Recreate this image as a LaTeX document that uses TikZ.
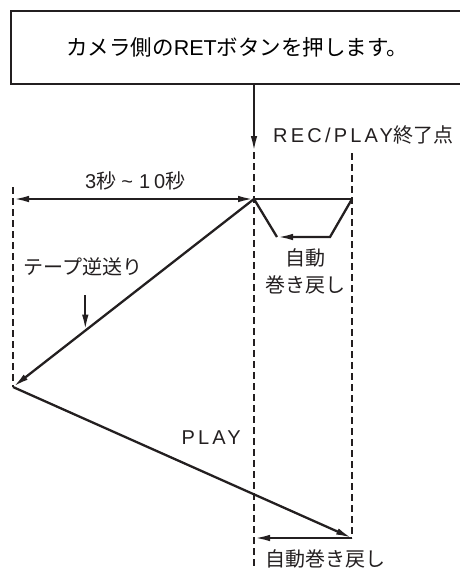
\documentclass[tikz,border=0pt]{standalone}
\usepackage{fontspec}
\setmainfont{Liberation Sans}
\newfontfamily\jp{Noto Sans CJK JP}
\usetikzlibrary{
  arrows.meta,
  calc,
  positioning
}
\definecolor{ink}{HTML}{231F20}
\newcommand{\jpt}[1]{{\jp #1}}
\newcommand{\spaced}[1]{{\addfontfeature{LetterSpace=16}#1}}
\tikzset{
  flow/.style={
    -{Latex[length=16pt,width=6.5pt]},
    line width=2.3pt,
    draw=ink
  },
  twoway/.style={
    {Latex[length=16pt,width=6.5pt]}-{Latex[length=16pt,width=6.5pt]},
    line width=2.3pt,
    draw=ink
  },
  track/.style={
    line width=2.3pt,
    draw=ink
  },
  guide/.style={
    dash pattern=on 7pt off 4pt,
    line width=2.3pt,
    draw=ink
  },
  note/.style={
    text=ink,
    inner sep=0pt,
    font=\fontsize{20}{27}\selectfont,
    align=center
  },
  panel/.style={
    draw=ink,
    line width=2.4pt,
    minimum width=452pt,
    minimum height=73pt,
    inner sep=0pt,
    font=\fontsize{21.5}{25}\selectfont
  }
}

\begin{document}
\begin{tikzpicture}[x=1pt, y=-1pt]
  \useasboundingbox (0,0) rectangle (460,570);

  \node[panel, anchor=north west] (retbox) at (10,10) {
    \jpt{カメラ側の}RET\jpt{ボタンを押します。}
  };

  % time marks
  \coordinate (endtop) at (254,152);
  \coordinate (endbot) at (254,572);
  \coordinate (rewtop) at (352,153);
  \coordinate (rewbot) at (352,538);
  \coordinate (starttop) at (13,187);
  \coordinate (startbot) at (13,387);
  \coordinate (endpt) at (254,199);
  \coordinate (rewpt) at (352,199);
  \coordinate (startpt) at (13,199);
  \coordinate (dipr) at (330,237);
  \coordinate (dipl) at (277,237);
  \coordinate (hit) at ($(endpt)!0.70!(startbot)$);
  \coordinate (playend) at (352,538);
  \coordinate (backend) at (254,538);

  \node[note, anchor=west] (recend) at (273,135) {
    \spaced{REC/PLAY}\jpt{終了点}
  };
  \node[note] (span) at (138,181) {
    3\jpt{秒}\hspace{5pt}\textasciitilde\hspace{6pt}1\hspace{4pt}0\jpt{秒}
  };
  \node[note] (autorew) at (305,271) {\jpt{自動}\\\jpt{巻き戻し}};
  \node[note] (taperev) at (83,267) {\jpt{テープ逆送り}};
  \node[note, anchor=east] (play) at (241,438) {\spaced{PLAY}};
  \node[note, anchor=west] (autorew2) at (265,559) {\jpt{自動巻き戻し}};

  \draw[flow] (retbox.south -| endtop) -- (endtop);
  \draw[guide] (endtop) -- (endbot);
  \draw[guide] (rewtop) -- (rewbot);
  \draw[guide] (starttop) -- (startbot);

  \draw[twoway] (startpt) -- (endpt);
  \draw[track] (endpt) -- (rewpt);
  \draw[flow] (rewpt) -- (dipr) -- (dipl);
  \draw[track] (dipl) -- (endpt);

  \draw[flow] (endpt) -- (startbot);
  \draw[flow] ([yshift=-19pt]taperev.south -| hit) -- (hit);
  \draw[flow] (startbot) -- (playend);
  \draw[flow] (playend) -- (backend);
\end{tikzpicture}
\end{document}
